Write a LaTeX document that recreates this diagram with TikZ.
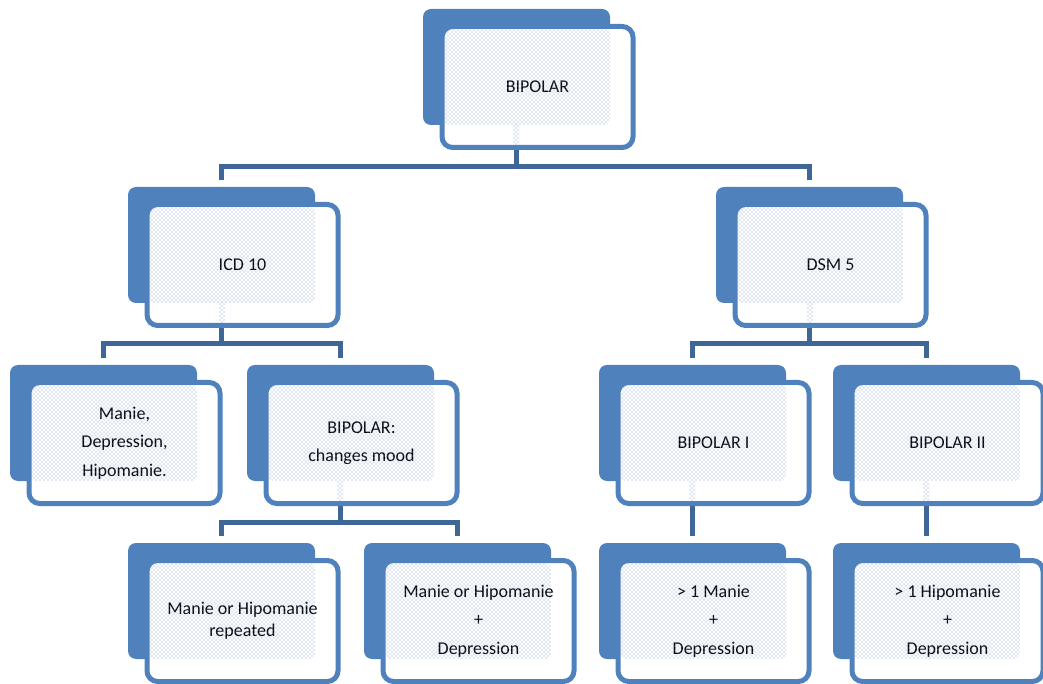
\documentclass[tikz,border=0pt]{standalone}
\usepackage{fontspec}
\setmainfont{Carlito}
\usepackage{xcolor}
\usepackage{tikz}
\usetikzlibrary{calc, patterns, backgrounds}
\definecolor{boxblue}{HTML}{4F81BD}
\definecolor{linkblue}{HTML}{3E6797}
\definecolor{dotblue}{HTML}{7C9ACB}

\begin{document}
\begin{tikzpicture}[
    x=0.75pt, y=-0.75pt,
    back/.style={fill=boxblue, rounded corners=6pt, minimum width=140.25pt, minimum height=87pt, inner sep=0pt, outer sep=0pt},
    front/.style={draw=boxblue, fill=white, line width=3.75pt, rounded corners=8pt, minimum width=143.25pt, minimum height=90.75pt, inner sep=0pt, outer sep=0pt, align=center, font=\fontsize{13.5}{21.4}\selectfont},
    link/.style={draw=linkblue, line width=3.75pt},
    dots/.style={pattern=crosshatch dots, pattern color=dotblue},
]
    \useasboundingbox (0,0) rectangle (1043,684);

    % Top
    \node[back] (bip-bk) at (516.5,67) {};
    \node[front] (bip) at (537.5,87) {BIPOLAR};

    % Classification systems
    \node[back] (icd-bk) at (221.5,245) {};
    \node[front] (icd) at (242.5,265) {ICD 10};
    \node[back] (dsm-bk) at (809.5,245) {};
    \node[front] (dsm) at (830.5,265) {DSM 5};

    % Third row
    \node[back] (man-bk) at (103.5,423) {};
    \node[front] (man) at (124.5,443) {Manie,\\ Depression,\\ Hipomanie.};
    \node[back] (chg-bk) at (340.5,423) {};
    \node[front] (chg) at (361.5,443) {BIPOLAR:\\ changes mood};
    \node[back] (bi1-bk) at (692.5,423) {};
    \node[front] (bi1) at (713.5,443) {BIPOLAR I};
    \node[back] (bi2-bk) at (926.5,423) {};
    \node[front] (bi2) at (947.5,443) {BIPOLAR II};

    % Bottom row
    \node[back] (rep-bk) at (221.5,601) {};
    \node[front, font=\fontsize{13.5}{16.5}\selectfont] (rep) at (242.5,621) {Manie or Hipomanie\\ repeated};
    \node[back] (dep-bk) at (457.5,601) {};
    \node[front] (dep) at (478.5,621) {Manie or Hipomanie\\ +\\ Depression};
    \node[back] (ma1-bk) at (692.5,601) {};
    \node[front] (ma1) at (713.5,621) {> 1 Manie\\ +\\ Depression};
    \node[back] (hy1-bk) at (926.5,601) {};
    \node[front] (hy1) at (947.5,621) {> 1 Hipomanie\\ +\\ Depression};

    % Shaded overlap of the two plates
    \foreach \n in {bip,icd,dsm,man,chg,bi1,bi2,rep,dep,ma1,hy1}
        \fill[dots, rounded corners=4pt] ($(\n.north west)+(2.5,2.5)$) rectangle (\n-bk.south east);
    \foreach \n in {bip,icd,dsm,chg,bi1,bi2}
        \fill[dots] ($(\n-bk.south)+(-3,0)$) rectangle ($(\n-bk.south |- \n.south)+(3,-2.5)$);

    % Connectors
    \coordinate (lvl2) at (0,167);
    \coordinate (lvl3) at (0,344);
    \coordinate (lvl4) at (0,522);
    \begin{scope}[on background layer]
        \draw[link] (bip-bk.center) -- (bip-bk.center |- lvl2);
        \draw[link] ($(icd-bk.north)+(0,-7)$) |- (bip-bk.center |- lvl2) -| ($(dsm-bk.north)+(0,-7)$);
        \draw[link] (icd-bk.center) -- (icd-bk.center |- lvl3);
        \draw[link] ($(man-bk.north)+(0,-7)$) |- (icd-bk.center |- lvl3) -| ($(chg-bk.north)+(0,-7)$);
        \draw[link] (dsm-bk.center) -- (dsm-bk.center |- lvl3);
        \draw[link] ($(bi1-bk.north)+(0,-7)$) |- (dsm-bk.center |- lvl3) -| ($(bi2-bk.north)+(0,-7)$);
        \draw[link] (chg-bk.center) -- (chg-bk.center |- lvl4);
        \draw[link] ($(rep-bk.north)+(0,-7)$) |- (chg-bk.center |- lvl4) -| ($(dep-bk.north)+(0,-7)$);
        \draw[link] (bi1-bk.center) -- ($(ma1-bk.north)+(0,-7)$);
        \draw[link] (bi2-bk.center) -- ($(hy1-bk.north)+(0,-7)$);
    \end{scope}
\end{tikzpicture}
\end{document}
